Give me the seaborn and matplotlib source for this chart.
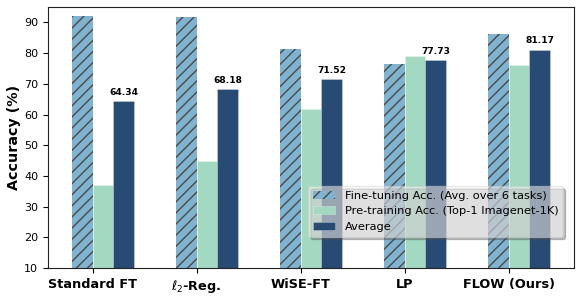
import numpy as np
import pandas as pd
import matplotlib
matplotlib.use("Agg")
import matplotlib.pyplot as plt
import seaborn as sns

methods = ["Standard FT", r"$\ell_2$-Reg.", "WiSE-FT", "LP", "FLOW (Ours)"]
finetune_acc = [92.1, 91.8, 81.5, 76.6, 86.4]
pretrain_acc = [37.0, 44.8, 61.7, 79.1, 76.2]
average_acc = [64.34, 68.18, 71.52, 77.73, 81.17]
series_names = ["Fine-tuning Acc. (Avg. over 6 tasks)",
                "Pre-training Acc. (Top-1 Imagenet-1K)",
                "Average"]
colors = ["#80b3cf", "#a3d9c0", "#284b74"]

df = pd.DataFrame({
    "method": methods * 3,
    "acc": finetune_acc + pretrain_acc + average_acc,
    "series": [series_names[0]] * 5 + [series_names[1]] * 5 + [series_names[2]] * 5,
})

sns.set_style("ticks")
plt.rcParams["font.family"] = ["DejaVu Sans"]
plt.rcParams["text.color"] = "black"
plt.rcParams["axes.labelcolor"] = "black"
plt.rcParams["xtick.color"] = "black"
plt.rcParams["ytick.color"] = "black"
plt.rcParams["hatch.color"] = "#4a4a4a"
plt.rcParams["hatch.linewidth"] = 1.0

fig, ax = plt.subplots(figsize=(5.81, 2.96), dpi=100)
fig.subplots_adjust(left=0.0826, right=0.988, top=0.976, bottom=0.0946)

sns.barplot(data=df, x="method", y="acc", hue="series", order=methods,
            hue_order=series_names, palette=colors, saturation=1,
            width=0.6, errorbar=None, ax=ax, legend=False)

# Style bars
for i, cont in enumerate(ax.containers):
    for p in cont.patches:
        if i == 0:
            p.set_hatch("///")
            p.set_edgecolor("#4a4a4a")
            p.set_linewidth(0)
        else:
            p.set_edgecolor((1, 1, 1, 0.35))
            p.set_linewidth(0.5)

ax.bar_label(ax.containers[2], labels=[f"{v:.2f}" for v in average_acc],
             padding=3, fontsize=6.6, fontweight="bold", color="black")

ax.set_ylim(10, 95)
ax.set_yticks([10, 20, 30, 40, 50, 60, 70, 80, 90])
ax.tick_params(axis="y", labelsize=8, length=3.5, width=0.8, colors="black")
ax.tick_params(axis="x", length=3.5, width=0.8, colors="black")
ax.set_xticks(np.arange(len(methods)) - 0.1)
ax.set_xticklabels(methods, fontsize=9.3, fontweight="bold")
ax.set_xlim(-0.53, 4.53)
ax.set_xlabel("")
ax.set_ylabel("Accuracy (%)", fontsize=10.3, fontweight="bold", labelpad=2)

for s in ax.spines.values():
    s.set_visible(True)
    s.set_color("#222222")
    s.set_linewidth(0.8)

handles = [ax.containers[i] for i in range(3)]
leg = ax.legend(handles, series_names, loc="lower right",
                bbox_to_anchor=(0.9785, 0.12), borderaxespad=0,
                fontsize=8.2, shadow={"alpha": 0.35}, fancybox=True,
                framealpha=0.5)

fig.savefig("out.png", dpi=100)
